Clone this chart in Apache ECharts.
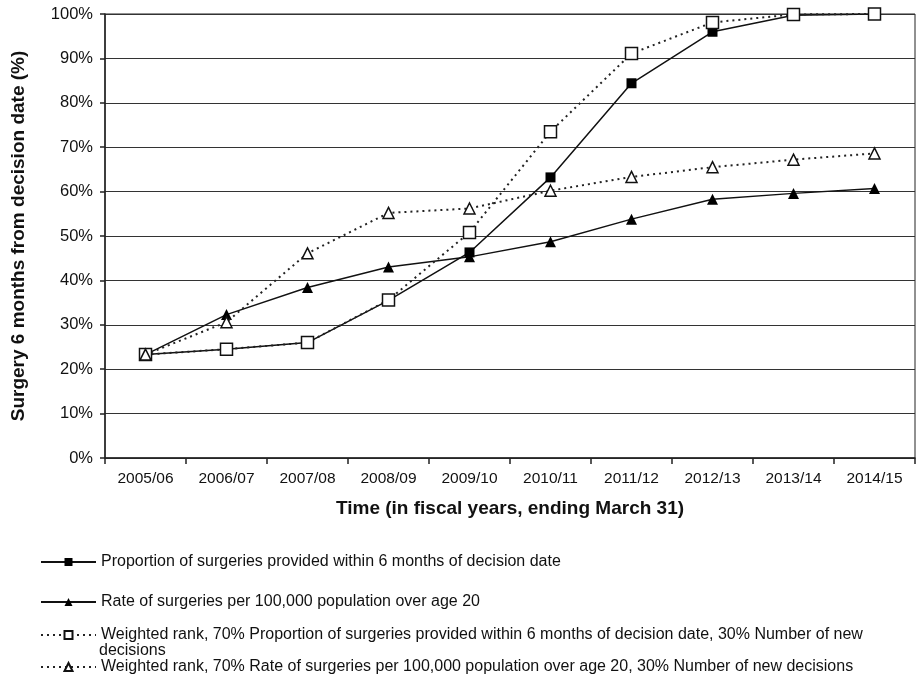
<!DOCTYPE html>
<html><head><meta charset="utf-8">
<script src="https://cdn.jsdelivr.net/npm/echarts@6/dist/echarts.min.js"></script>
<style>html,body{margin:0;padding:0;background:#fff}#c{width:918px;height:681px}</style>
</head><body><div id="c"></div>
<script>
var categories = ['2005/06','2006/07','2007/08','2008/09','2009/10','2010/11','2011/12','2012/13','2013/14','2014/15'];
var propWithin6 = [23.3, 24.5, 26.0, 35.5, 46.3, 63.2, 84.4, 96.0, 99.7, 100];
var ratePer100k = [23.3, 32.3, 38.4, 43.0, 45.3, 48.7, 53.8, 58.3, 59.6, 60.7];
var weightedProp = [23.3, 24.5, 26.0, 35.6, 50.8, 73.5, 91.1, 98.1, 99.9, 100];
var weightedRate = [23.3, 30.6, 46.1, 55.2, 56.2, 60.2, 63.3, 65.5, 67.2, 68.6];
var names = [
  'Proportion of surgeries provided within 6 months of decision date',
  'Rate of surgeries per 100,000 population over age 20',
  'Weighted rank, 70% Proportion of surgeries provided within 6 months of decision date, 30% Number of new decisions',
  'Weighted rank, 70% Rate of surgeries per 100,000 population over age 20, 30% Number of new decisions'
];
var F = 'Liberation Sans, Arial, sans-serif';
var chart = echarts.init(document.getElementById('c'), null, {renderer:'canvas'});
function legendFor(i, top, extra) {
  var l = {
    data: [names[i]], left: 40, top: top, orient: 'vertical',
    itemWidth: 55, itemHeight: 10, itemGap: 0, padding: 0,
    selectedMode: false,
    textStyle: {fontFamily: F, fontSize: 16, color: '#111'}
  };
  if (extra) Object.assign(l, extra);
  return l;
}
var option = {
  animation: false,
  backgroundColor: '#fff',
  grid: {left: 105, right: 3, top: 14, bottom: 223, show: true, borderColor: '#222', borderWidth: 1,
         containLabel: false, outerBoundsMode: 'none'},
  xAxis: {
    type: 'category', data: categories, boundaryGap: true,
    name: 'Time (in fiscal years, ending March 31)', nameLocation: 'middle', nameGap: 41,
    nameMoveOverlap: false,
    nameTextStyle: {fontFamily: F, fontSize: 19, fontWeight: 'bold', color: '#111'},
    axisLine: {lineStyle: {color: '#222', width: 1.5}},
    axisTick: {show: true, length: 6, lineStyle: {color: '#222', width: 1.5}},
    axisLabel: {fontFamily: F, fontSize: 15.5, color: '#111', margin: 13, interval: 0}
  },
  yAxis: {
    type: 'value', min: 0, max: 100, interval: 10,
    name: 'Surgery 6 months from decision date (%)', nameLocation: 'middle', nameGap: 77,
    nameTextStyle: {fontFamily: F, fontSize: 19, fontWeight: 'bold', color: '#111'},
    axisLine: {show: true, lineStyle: {color: '#222', width: 1.5}},
    axisTick: {show: true, length: 5, lineStyle: {color: '#222', width: 1.5}},
    axisLabel: {fontFamily: F, fontSize: 16.5, color: '#111', margin: 12, formatter: '{value}%'},
    splitLine: {show: true, lineStyle: {color: '#333', width: 1}}
  },
  legend: [
    legendFor(0, 554),
    legendFor(1, 594),
    legendFor(2, 627, {formatter: function(n){ return 'Weighted rank, 70% Proportion of surgeries provided within 6 months of decision date, 30% Number of new'; }}),
    legendFor(3, 659)
  ],
  graphic: [
    {type: 'text', left: 99, top: 643, style: {text: 'decisions', fontFamily: F, fontSize: 16, fill: '#111'}}
  ],
  series: [
    {name: names[0], type: 'line', data: propWithin6, symbol: 'rect', symbolSize: 10,
     itemStyle: {color: '#000'}, lineStyle: {color: '#111', width: 1.5}, z: 3},
    {name: names[1], type: 'line', data: ratePer100k, symbol: 'triangle', symbolSize: 11,
     itemStyle: {color: '#000'}, lineStyle: {color: '#111', width: 1.5}, z: 3},
    {name: names[2], type: 'line', data: weightedProp, symbol: 'rect', symbolSize: 12,
     itemStyle: {color: '#fff', borderColor: '#111', borderWidth: 1.5},
     lineStyle: {color: '#222', width: 2, type: [2, 4]}, z: 4},
    {name: names[3], type: 'line', data: weightedRate, symbol: 'triangle', symbolSize: 11,
     itemStyle: {color: '#fff', borderColor: '#111', borderWidth: 1.5},
     lineStyle: {color: '#222', width: 2, type: [2, 4]}, z: 4}
  ]
};
chart.setOption(option);
</script></body></html>
